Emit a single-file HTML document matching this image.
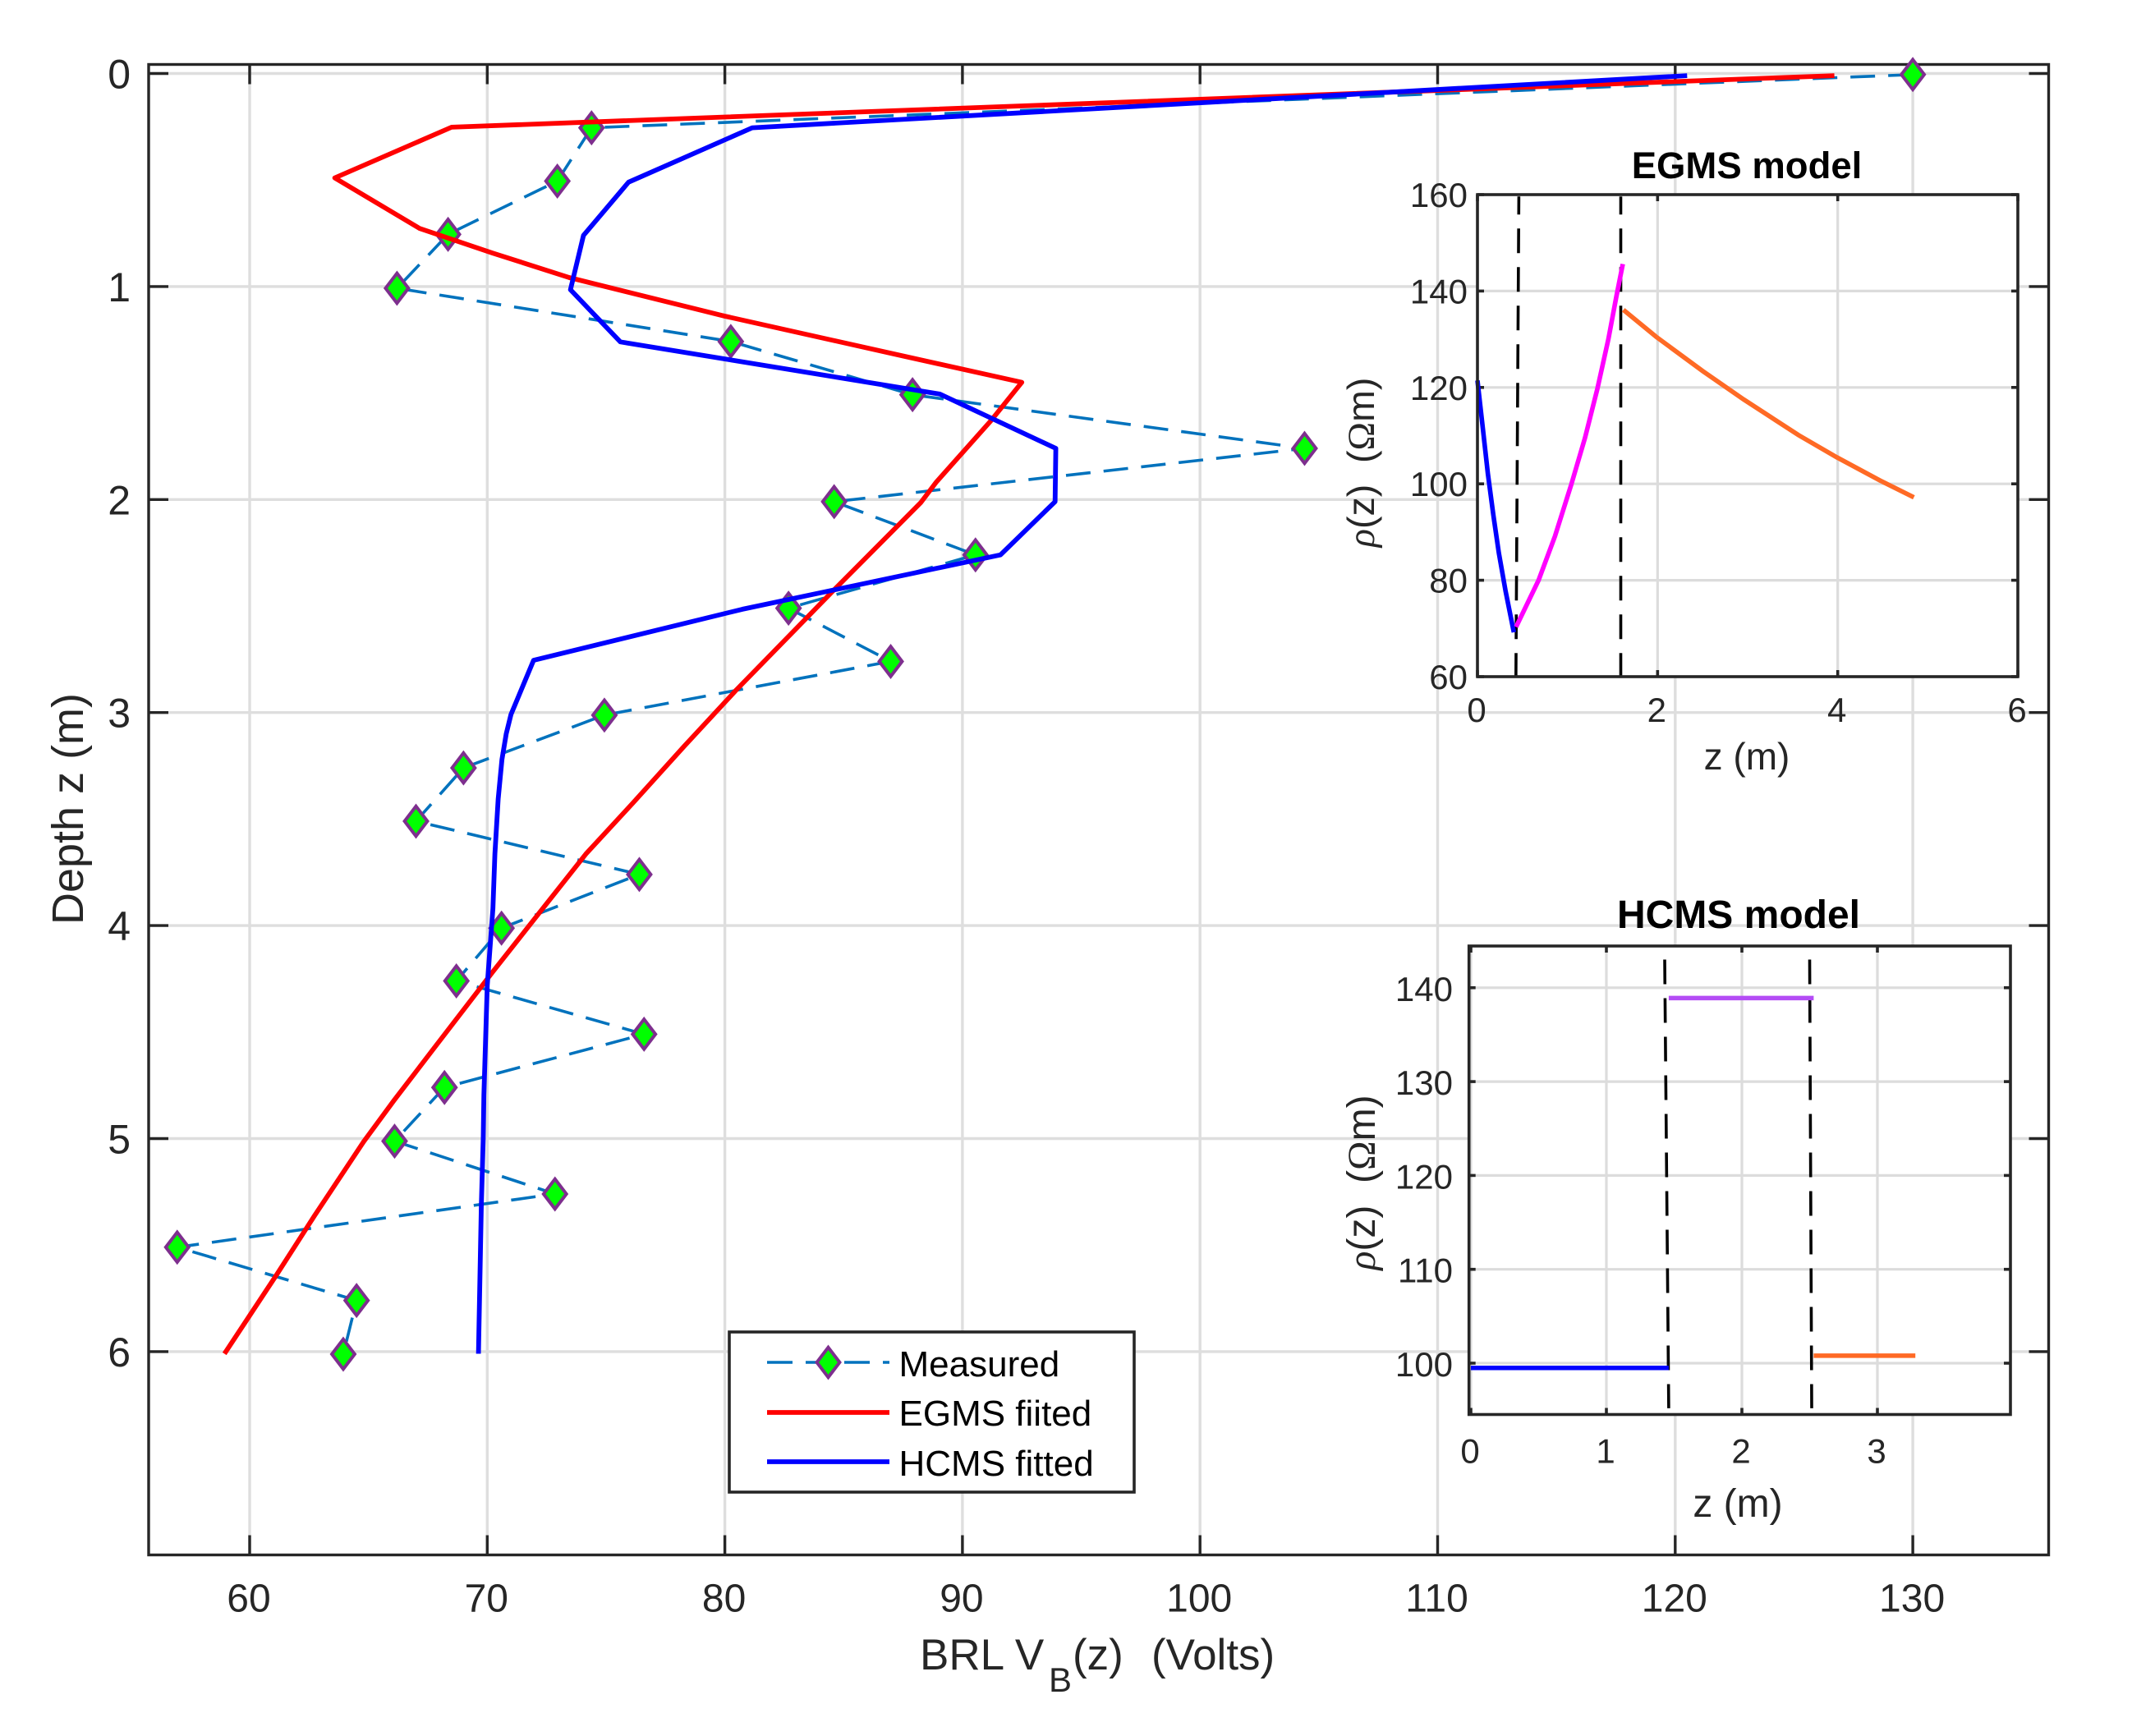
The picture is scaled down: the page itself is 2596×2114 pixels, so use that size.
<!DOCTYPE html>
<html lang="en">
<head>
<meta charset="utf-8">
<title>BRL voltage versus depth</title>
<style>
html,body{margin:0;padding:0;background:#fff;}
svg{display:block;font-family:"Liberation Sans",Arial,sans-serif;}
</style>
</head>
<body>
<svg id="chart" xmlns="http://www.w3.org/2000/svg" width="2596" height="2114" viewBox="0 0 2596 2114"></svg>
<script>
/* ---------- main chart data ---------- */
const mainXTicks = [60, 70, 80, 90, 100, 110, 120, 130];
const mainYTicks = [0, 1, 2, 3, 4, 5, 6];
const measuredVoltage = [130, 74.39, 72.95, 68.35, 66.2, 80.25, 87.9, 104.4, 84.6, 90.55, 82.68, 86.98, 74.93, 69.0, 67.0, 76.4, 70.6, 68.7, 76.6, 68.2, 66.1, 72.85, 56.95, 64.5, 63.94];
const measuredDepth = [0.005, 0.255, 0.505, 0.755, 1.008, 1.258, 1.508, 1.76, 2.01, 2.26, 2.51, 2.76, 3.012, 3.26, 3.51, 3.76, 4.012, 4.26, 4.51, 4.76, 5.012, 5.26, 5.51, 5.76, 6.012];
const egmsVoltage = [126.7, 68.5, 63.58, 67.15, 70.23, 73.45, 80.0, 87.5, 92.5, 91.2, 88.9, 88.24, 84.5, 80.49, 78.3, 76.17, 74.15, 71.96, 70.23, 67.93, 66.08, 64.8, 62.74, 61.13, 58.94];
const egmsDepth = [0.01, 0.252, 0.49, 0.727, 0.843, 0.958, 1.139, 1.326, 1.45, 1.63, 1.918, 2.015, 2.435, 2.893, 3.157, 3.42, 3.664, 3.973, 4.217, 4.551, 4.82, 5.014, 5.36, 5.64, 6.01];
const hcmsVoltage = [120.5, 81.15, 75.95, 74.05, 73.5, 75.6, 89.05, 93.93, 93.9, 91.6, 80.74, 71.95, 71.0, 70.8, 70.62, 70.46, 70.32, 70.24, 70.0, 69.86, 69.83, 69.75, 69.63];
const hcmsDepth = [0.01, 0.255, 0.51, 0.76, 1.015, 1.26, 1.505, 1.76, 2.01, 2.26, 2.515, 2.755, 3.009, 3.1, 3.22, 3.406, 3.664, 3.92, 4.281, 4.796, 5.0, 5.31, 6.01];

/* ---------- EGMS inset data ---------- */
const egmsXTicks = [0, 2, 4, 6];
const egmsYTicks = [60, 80, 100, 120, 140, 160];
const egmsLayer1Z = [0, 0.055, 0.116, 0.176, 0.237, 0.313, 0.404];
const egmsLayer1Rho = [121.45, 112.35, 102.1, 93.6, 85.7, 77.7, 69.2];
const egmsLayer2Z = [0.429, 0.678, 0.86, 1.042, 1.194, 1.331, 1.453, 1.544, 1.614];
const egmsLayer2Rho = [70.3, 80, 89.1, 99.9, 109.5, 119.7, 130, 139, 145.6];
const egmsLayer3Z = [1.62, 1.985, 2.5, 2.957, 3.565, 3.99, 4.47, 4.845];
const egmsLayer3Rho = [136.1, 130.5, 123.4, 117.5, 110.1, 105.5, 100.7, 97.2];
const egmsBoundary1Z = [0.4595, 0.427];
const egmsBoundary2Z = [1.591, 1.591];
const egmsBoundaryRho = [159.6, 59.1];

/* ---------- HCMS inset data ---------- */
const hcmsXTicks = [0, 1, 2, 3];
const hcmsYTicks = [100, 110, 120, 130, 140];
const hcmsLayer1Z = [0, 1.46];
const hcmsLayer1Rho = [99.5, 99.5];
const hcmsLayer2Z = [1.46, 2.53];
const hcmsLayer2Rho = [138.9, 138.9];
const hcmsLayer3Z = [2.53, 3.28];
const hcmsLayer3Rho = [100.8, 100.8];
const hcmsBoundary1Z = [1.43, 1.46];
const hcmsBoundary2Z = [2.5, 2.515];
const hcmsBoundaryRho = [143, 95.2];

const NS = 'http://www.w3.org/2000/svg';
const root = document.getElementById('chart');
const INK = '#262626';
const GRID = '#dedede';

function mk(tag, attrs, parent, txt) {
  const el = document.createElementNS(NS, tag);
  for (const k in attrs) el.setAttribute(k, attrs[k]);
  if (txt !== undefined) el.textContent = txt;
  (parent || root).appendChild(el);
  return el;
}
function pts(xs, ys, fx, fy) {
  return xs.map((v, i) => fx(v).toFixed(1) + ',' + fy(ys[i]).toFixed(1)).join(' ');
}

/* axis functions */
const mainX = v => 304 + (v - 60) * 28.93;
const mainY = d => 89.5 + d * 259.4;
const eX = z => 1799 + z * 109.67;
const eY = r => 824 - (r - 60) * 5.87;
const hX = z => 1791 + z * 165;
const hY = r => 1660 - (r - 100) * 11.43;

/* ---------- main axes ---------- */
const L = 181, R = 2494.5, T = 78.5, B = 1893.5;
const mainGrid = mk('g', {stroke: GRID, 'stroke-width': 3.4, fill: 'none'});


mainXTicks.forEach(v => {
  const g = mk('line', {x1: mainX(v), x2: mainX(v), y1: T, y2: B}, mainGrid);
  
  
});
mainYTicks.forEach(v => {
  const g = mk('line', {x1: L, x2: R, y1: mainY(v), y2: mainY(v)}, mainGrid);
  
  
});

const mainAxes = mk('g', {stroke: INK, 'stroke-width': 3.4, fill: 'none'});


const mainBox = mk('rect', {x: L, y: T, width: R - L, height: B - T}, mainAxes);


mainXTicks.forEach(v => {
  const x = mainX(v);
  const t1 = mk('line', {x1: x, x2: x, y1: T, y2: T + 24}, mainAxes);
  
  
  const t2 = mk('line', {x1: x, x2: x, y1: B, y2: B - 24}, mainAxes);
  
  
  const lb = mk('text', {x: x - 1, y: 1962.5, 'text-anchor': 'middle', 'font-size': 48, fill: INK}, root, String(v));
  
  
});
mainYTicks.forEach(v => {
  const y = mainY(v);
  const t1 = mk('line', {x1: L, x2: L + 24, y1: y, y2: y}, mainAxes);
  
  
  const t2 = mk('line', {x1: R, x2: R - 24, y1: y, y2: y}, mainAxes);
  
  
  const lb = mk('text', {x: 159, y: y + 18, 'text-anchor': 'end', 'font-size': 50, fill: INK}, root, String(v));
  
  
});

/* ---------- main series ---------- */
const measuredLine = mk('polyline', {points: pts(measuredVoltage, measuredDepth, mainX, mainY), fill: 'none', stroke: '#0072BD', 'stroke-width': 3.6, 'stroke-dasharray': '30 16'});



function diamond(cx, cy, parent) {
  const w = 13.9, h = 18.2;
  return mk('polygon', {points: [cx, cy - h, cx + w, cy, cx, cy + h, cx - w, cy].join(' '), fill: '#00ff00', stroke: '#7E2F8E', 'stroke-width': 4}, parent);
}
const markerGroup = mk('g', {});


measuredVoltage.forEach((v, i) => {
  const m = diamond(mainX(v), mainY(measuredDepth[i]), markerGroup);
  
  
});

const egmsLine = mk('polyline', {points: pts(egmsVoltage, egmsDepth, mainX, mainY), fill: 'none', stroke: '#ff0000', 'stroke-width': 5.8, 'stroke-linejoin': 'round'});


const hcmsLine = mk('polyline', {points: pts(hcmsVoltage, hcmsDepth, mainX, mainY), fill: 'none', stroke: '#0000ff', 'stroke-width': 5.8, 'stroke-linejoin': 'round'});



/* ---------- main axis titles ---------- */
const xTitle = mk('text', {y: 2033, 'font-size': 53, fill: INK, style: 'white-space:pre'});


mk('tspan', {x: 1120, y: 2033}, xTitle, 'BRL V');
mk('tspan', {x: 1277, y: 2060, 'font-size': 42}, xTitle, 'B');
mk('tspan', {x: 1306, y: 2033}, xTitle, '(z)');
mk('tspan', {x: 1402, y: 2033}, xTitle, '(Volts)');

const yTitle = mk('text', {x: 0, y: 0, 'font-size': 54, fill: INK, 'text-anchor': 'middle', transform: 'translate(101 985) rotate(-90)'}, root, 'Depth z (m)');



/* ---------- legend ---------- */
const legend = mk('g', {});


const legendBox = mk('rect', {x: 888, y: 1622, width: 493, height: 195, fill: '#fff', stroke: INK, 'stroke-width': 3.6}, legend);


const lgM = mk('line', {x1: 934, x2: 1083, y1: 1659, y2: 1659, stroke: '#0072BD', 'stroke-width': 3.6, 'stroke-dasharray': '31 16'}, legend);


const lgD = diamond(1008.5, 1659, legend);


const lgE = mk('line', {x1: 934, x2: 1083, y1: 1720, y2: 1720, stroke: '#ff0000', 'stroke-width': 5.8}, legend);


const lgH = mk('line', {x1: 934, x2: 1083, y1: 1780, y2: 1780, stroke: '#0000ff', 'stroke-width': 5.8}, legend);


const ltM = mk('text', {x: 1094.5, y: 1676, 'font-size': 44, fill: '#000'}, legend, 'Measured');


const ltE = mk('text', {x: 1094.5, y: 1736, 'font-size': 44, fill: '#000'}, legend, 'EGMS fiited');


const ltH = mk('text', {x: 1094.5, y: 1797, 'font-size': 44, fill: '#000'}, legend, 'HCMS fitted');



/* ---------- inset axes helper ---------- */
function buildInset(group, box, xTicks, yTicks, fx, fy, fs) {
  mk('rect', {x: box.l, y: box.t, width: box.r - box.l, height: box.b - box.t, fill: '#fff', stroke: 'none'}, group);
  const g = mk('g', {stroke: '#dcdcdc', 'stroke-width': 3.2}, group);
  xTicks.forEach(v => {
    mk('line', {x1: fx(v), x2: fx(v), y1: box.t, y2: box.b}, g);
  });
  yTicks.forEach(v => {
    mk('line', {x1: box.l, x2: box.r, y1: fy(v), y2: fy(v)}, g);
  });
  const a = mk('g', {stroke: INK, 'stroke-width': 3.6, fill: 'none'}, group);
  xTicks.forEach(v => {
    const x = fx(v);
    mk('line', {x1: x, x2: x, y1: box.t, y2: box.t + 8}, a);
    mk('line', {x1: x, x2: x, y1: box.b, y2: box.b - 8}, a);
    mk('text', {x: x - 1, y: box.xLabelY, 'text-anchor': 'middle', 'font-size': fs, fill: INK, stroke: 'none'}, group, String(v));
  });
  yTicks.forEach(v => {
    const y = fy(v);
    mk('line', {x1: box.l, x2: box.l + 8, y1: y, y2: y}, a);
    mk('line', {x1: box.r, x2: box.r - 8, y1: y, y2: y}, a);
    mk('text', {x: box.yLabelX, y: y + box.yLabelDy, 'text-anchor': 'end', 'font-size': fs, fill: INK, stroke: 'none'}, group, String(v));
  });
  return a;
}
function rhoTitle(group, x, y, fs) {
  const t = mk('text', {'font-size': fs, fill: INK, 'text-anchor': 'middle', transform: 'translate(' + x + ' ' + y + ') rotate(-90)', style: 'white-space:pre'}, group);
  mk('tspan', {'font-style': 'italic', 'font-family': '"Liberation Serif",serif'}, t, 'ρ');
  mk('tspan', {}, t, '(z)  (');
  mk('tspan', {'font-family': '"Liberation Serif",serif'}, t, 'Ω');
  mk('tspan', {}, t, 'm)');
  return t;
}

/* ---------- EGMS inset ---------- */
const egmsInset = mk('g', {});


const eBox = {l: 1799, r: 2457, t: 237, b: 824, xLabelY: 879, yLabelX: 1787, yLabelDy: 15};
buildInset(egmsInset, eBox, egmsXTicks, egmsYTicks, eX, eY, 42);
const eb1 = mk('polyline', {points: pts(egmsBoundary1Z, egmsBoundaryRho, eX, eY), fill: 'none', stroke: '#000', 'stroke-width': 3.6, 'stroke-dasharray': '30 17', 'stroke-dashoffset': 8}, egmsInset);


const eb2 = mk('polyline', {points: pts(egmsBoundary2Z, egmsBoundaryRho, eX, eY), fill: 'none', stroke: '#000', 'stroke-width': 3.6, 'stroke-dasharray': '30 17', 'stroke-dashoffset': 8}, egmsInset);


const el1 = mk('polyline', {points: pts(egmsLayer1Z, egmsLayer1Rho, eX, eY), fill: 'none', stroke: '#0000ff', 'stroke-width': 5.6}, egmsInset);


const el2 = mk('polyline', {points: pts(egmsLayer2Z, egmsLayer2Rho, eX, eY), fill: 'none', stroke: '#ff00ff', 'stroke-width': 5.6}, egmsInset);


const el3 = mk('polyline', {points: pts(egmsLayer3Z, egmsLayer3Rho, eX, eY), fill: 'none', stroke: '#ff6a25', 'stroke-width': 5.6}, egmsInset);


const eFrame = mk('rect', {x: eBox.l, y: eBox.t, width: eBox.r - eBox.l, height: eBox.b - eBox.t, fill: 'none', stroke: INK, 'stroke-width': 3.6}, egmsInset);


const eTitle = mk('text', {x: 2127, y: 217, 'text-anchor': 'middle', 'font-size': 45.5, 'font-weight': 'bold', fill: '#000'}, egmsInset, 'EGMS model');


const eXT = mk('text', {x: 2127, y: 937, 'text-anchor': 'middle', 'font-size': 46, fill: INK}, egmsInset, 'z (m)');


const eYT = rhoTitle(egmsInset, 1673, 563, 46.5);



/* ---------- HCMS inset ---------- */
const hcmsInset = mk('g', {});


const hBox = {l: 1788.7, r: 2448, t: 1152, b: 1722.5, xLabelY: 1781.5, yLabelX: 1769, yLabelDy: 16};
buildInset(hcmsInset, hBox, hcmsXTicks, hcmsYTicks, hX, hY, 42);
const hb1 = mk('polyline', {points: pts(hcmsBoundary1Z, hcmsBoundaryRho, hX, hY), fill: 'none', stroke: '#000', 'stroke-width': 3.6, 'stroke-dasharray': '30 17'}, hcmsInset);


const hb2 = mk('polyline', {points: pts(hcmsBoundary2Z, hcmsBoundaryRho, hX, hY), fill: 'none', stroke: '#000', 'stroke-width': 3.6, 'stroke-dasharray': '30 17'}, hcmsInset);


const hl1 = mk('polyline', {points: pts(hcmsLayer1Z, hcmsLayer1Rho, hX, hY), fill: 'none', stroke: '#0000ff', 'stroke-width': 5.5}, hcmsInset);


const hl2 = mk('polyline', {points: pts(hcmsLayer2Z, hcmsLayer2Rho, hX, hY), fill: 'none', stroke: '#b44cf5', 'stroke-width': 5.5}, hcmsInset);


const hl3 = mk('polyline', {points: pts(hcmsLayer3Z, hcmsLayer3Rho, hX, hY), fill: 'none', stroke: '#ff6a25', 'stroke-width': 5.5}, hcmsInset);


const hFrame = mk('rect', {x: hBox.l, y: hBox.t, width: hBox.r - hBox.l, height: hBox.b - hBox.t, fill: 'none', stroke: INK, 'stroke-width': 3.6}, hcmsInset);


const hTitle = mk('text', {x: 2117, y: 1130, 'text-anchor': 'middle', 'font-size': 48, 'font-weight': 'bold', fill: '#000'}, hcmsInset, 'HCMS model');


const hXT = mk('text', {x: 2116, y: 1847, 'text-anchor': 'middle', 'font-size': 48, fill: INK}, hcmsInset, 'z (m)');


const hYT = rhoTitle(hcmsInset, 1674, 1440, 48);


</script>
</body>
</html>
